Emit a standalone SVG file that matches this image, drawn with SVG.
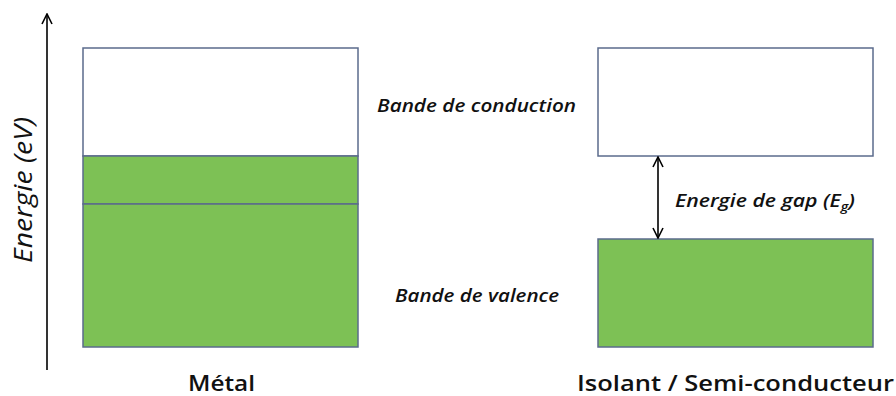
<svg xmlns="http://www.w3.org/2000/svg" width="896" height="396" viewBox="0 0 896 396">
<defs>
<style>
.band{stroke:#5b6b8c;stroke-width:1.5}
.empty{fill:#ffffff}
.full{fill:#7dc155}
.lbl{font-family:"Open Sans","Liberation Sans",sans-serif;font-style:italic;font-weight:600;font-size:18px;fill:#111}
.title{font-family:"Open Sans","Liberation Sans",sans-serif;font-weight:600;font-size:22px;fill:#111}
.ax{stroke:#000;stroke-width:1.6;fill:none}
</style>
<marker id="open" viewBox="0 0 12 12" refX="11" refY="6" markerWidth="12" markerHeight="12" markerUnits="userSpaceOnUse" orient="auto-start-reverse">
<path d="M1,1 L11,6 L1,11" fill="none" stroke="#000" stroke-width="1.6"/>
</marker>
</defs>
<rect width="896" height="396" fill="#ffffff"/>
<g id="axis">
<line class="ax" x1="47" y1="370" x2="47" y2="14" marker-end="url(#open)"/>
<text class="title" style="font-style:italic;font-weight:400;font-size:25px" transform="translate(32,263) rotate(-90)" textLength="146" lengthAdjust="spacingAndGlyphs">Energie (eV)</text>
</g>
<g id="metal">
<rect class="band empty" x="83" y="48" width="275" height="108"/>
<rect class="band full" x="83" y="156" width="275" height="48"/>
<rect class="band full" x="83" y="204" width="275" height="143"/>
<text class="title" x="188" y="391" textLength="67" lengthAdjust="spacingAndGlyphs">Métal</text>
</g>
<g id="isolant">
<rect class="band empty" x="598" y="48" width="275" height="108"/>
<rect class="band full" x="598" y="239" width="275" height="108"/>
<text class="title" x="577" y="391" textLength="317" lengthAdjust="spacingAndGlyphs">Isolant / Semi-conducteur</text>
</g>
<g id="labels">
<text class="lbl" x="377" y="112" textLength="199" lengthAdjust="spacingAndGlyphs">Bande de conduction</text>
<text class="lbl" x="395" y="302" textLength="164" lengthAdjust="spacingAndGlyphs">Bande de valence</text>
<text class="lbl" x="675" y="207" textLength="180" lengthAdjust="spacingAndGlyphs">Energie de gap (E<tspan font-size="12" dy="4">g</tspan><tspan dy="-4">)</tspan></text>
</g>
<g id="connectors">
<line class="ax" x1="658" y1="157" x2="658" y2="238" marker-start="url(#open)" marker-end="url(#open)"/>
</g>
</svg>
